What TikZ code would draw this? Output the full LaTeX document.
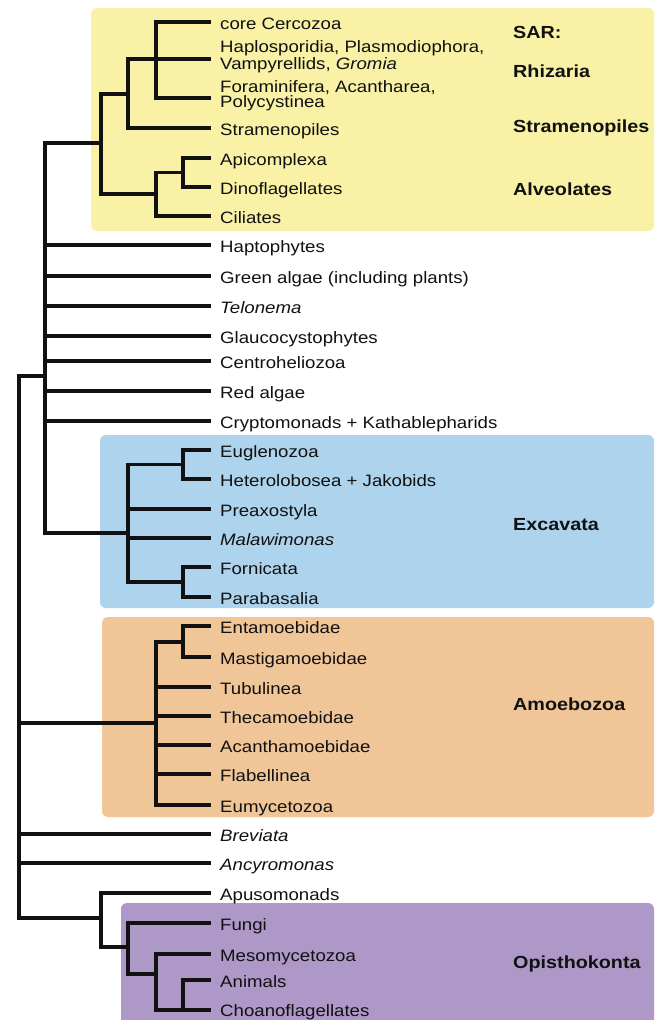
\documentclass[tikz,border=0pt]{standalone}
\usepackage{fontspec}
\setmainfont{Liberation Sans}[FakeStretch=1.13]
\definecolor{sarbg}{HTML}{F9F1A5}
\definecolor{excbg}{HTML}{AED3EC}
\definecolor{amobg}{HTML}{F0C598}
\definecolor{opibg}{HTML}{AD98C8}
\definecolor{ink}{HTML}{111111}
\tikzset{
  branch/.style={draw=ink, line width=3.6pt, line join=miter},
  leaf/.style={anchor=west, inner xsep=9pt, inner ysep=0pt, text height=14pt, text depth=0pt,
    font=\fontsize{16.5}{12}\selectfont, text=ink},
  leaftwo/.style={anchor=west, inner xsep=9pt, inner ysep=0pt, align=left, yshift=2.25pt,
    font=\fontsize{16.5}{12}\selectfont, text=ink},
  group/.style={anchor=base west, inner sep=0pt, font=\fontsize{17.5}{20}\selectfont\bfseries, text=ink},
  panel/.style={rounded corners=6pt}
}
\begin{document}
\begin{tikzpicture}[x=1pt,y=-1pt]
\clip (0,0) rectangle (659,1020);
\fill[white] (0,0) rectangle (659,1020);
% coloured panels
\fill[sarbg,panel] (91,8) rectangle (654,231);
\fill[excbg,panel] (100,435) rectangle (654,608);
\fill[amobg,panel] (102,617) rectangle (654,817);
\fill[opibg,panel] (121,903) rectangle (654,1040);

% leaf tips
\foreach \n/\y in {cer/22,hap/59,for/98,str/128,api/158,din/187,cil/216,
  hpt/245,grn/276,tel/306,gla/336,cen/361,red/391,cry/421,
  eug/450,het/479,pre/509,mal/538,fon/567,par/597,
  ent/626,mas/657,tub/687,thc/716,aca/745,fla/774,eum/805,
  bre/834,anc/863,apu/893,fun/923,mes/954,ani/980,cho/1010}
  \coordinate (\n) at (211,\y);

% internal nodes
\coordinate (r1) at (156,59);
\coordinate (r2) at (128,94);
\coordinate (a1) at (183,172.5);
\coordinate (a2) at (156,194);
\coordinate (s) at (101,143);
\coordinate (b) at (45,376);
\coordinate (e1) at (183,464.5);
\coordinate (e2) at (183,582);
\coordinate (exc) at (128,533);
\coordinate (m1) at (183,642);
\coordinate (am) at (156,723);
\coordinate (rt) at (19,723);
\coordinate (ao) at (101,918);
\coordinate (op) at (128,947);
\coordinate (ho) at (156,974);
\coordinate (ac) at (183,1010);

% tree
\draw[branch] (cer) -| (r1) |- (for);
\draw[branch] (r1) -- (hap);
\draw[branch] (r1) -| (r2) |- (str);
\draw[branch] (api) -| (a1) |- (din);
\draw[branch] (a1) -| (a2) |- (cil);
\draw[branch] (r2) -| (s) |- (a2);
\draw[branch] (s) -| (b) |- (exc);
\foreach \n in {hpt,grn,tel,gla,cen,red,cry}
  \draw[branch] (b |- \n) -- (\n);
\draw[branch] (eug) -| (e1) |- (het);
\draw[branch] (fon) -| (e2) |- (par);
\draw[branch] (e1) -| (exc) |- (e2);
\draw[branch] (exc |- pre) -- (pre);
\draw[branch] (exc |- mal) -- (mal);
\draw[branch] (ent) -| (m1) |- (mas);
\draw[branch] (m1) -| (am) |- (eum);
\foreach \n in {tub,thc,aca,fla}
  \draw[branch] (am |- \n) -- (\n);
\draw[branch] (b) -| (rt) |- (ao);
\draw[branch] (rt) -- (am);
\draw[branch] (rt |- bre) -- (bre);
\draw[branch] (rt |- anc) -- (anc);
\draw[branch] (apu) -| (ao) |- (op);
\draw[branch] (fun) -| (op) |- (ho);
\draw[branch] (mes) -| (ho) |- (cho);
\draw[branch] (ani) -| (ac);

% leaf labels
\node[leaf] (tcer) at (cer) {core Cercozoa};
\node[leaftwo] (thap) at (hap) {Haplosporidia, Plasmodiophora,\\Vampyrellids, \textit{Gromia}};
\node[leaftwo] (tfor) at (for) {Foraminifera, Acantharea,\\Polycystinea};
\node[leaf] (tstr) at (str) {Stramenopiles};
\node[leaf] (tapi) at (api) {Apicomplexa};
\node[leaf] (tdin) at (din) {Dinoflagellates};
\node[leaf] (tcil) at (cil) {Ciliates};
\node[leaf] (thpt) at (hpt) {Haptophytes};
\node[leaf] (tgrn) at (grn) {Green algae (including plants)};
\node[leaf] (ttel) at (tel) {\textit{Telonema}};
\node[leaf] (tgla) at (gla) {Glaucocystophytes};
\node[leaf] (tcen) at (cen) {Centroheliozoa};
\node[leaf] (tred) at (red) {Red algae};
\node[leaf] (tcry) at (cry) {Cryptomonads + Kathablepharids};
\node[leaf] (teug) at (eug) {Euglenozoa};
\node[leaf] (thet) at (het) {Heterolobosea + Jakobids};
\node[leaf] (tpre) at (pre) {Preaxostyla};
\node[leaf] (tmal) at (mal) {\textit{Malawimonas}};
\node[leaf] (tfon) at (fon) {Fornicata};
\node[leaf] (tpar) at (par) {Parabasalia};
\node[leaf] (tent) at (ent) {Entamoebidae};
\node[leaf] (tmas) at (mas) {Mastigamoebidae};
\node[leaf] (ttub) at (tub) {Tubulinea};
\node[leaf] (tthc) at (thc) {Thecamoebidae};
\node[leaf] (taca) at (aca) {Acanthamoebidae};
\node[leaf] (tfla) at (fla) {Flabellinea};
\node[leaf] (teum) at (eum) {Eumycetozoa};
\node[leaf] (tbre) at (bre) {\textit{Breviata}};
\node[leaf] (tanc) at (anc) {\textit{Ancyromonas}};
\node[leaf] (tapu) at (apu) {Apusomonads};
\node[leaf] (tfun) at (fun) {Fungi};
\node[leaf] (tmes) at (mes) {Mesomycetozoa};
\node[leaf] (tani) at (ani) {Animals};
\node[leaf, text height=13pt] (tcho) at (cho) {Choanoflagellates};

% group labels
\node[group] (gsar) at (513,38) {SAR:};
\node[group] (grhz) at (513,77) {Rhizaria};
\node[group] (gstr) at (513,132) {Stramenopiles};
\node[group] (galv) at (513,195) {Alveolates};
\node[group] (gexc) at (513,530) {Excavata};
\node[group] (gamo) at (513,710) {Amoebozoa};
\node[group] (gopi) at (513,968) {Opisthokonta};
\end{tikzpicture}
\end{document}
